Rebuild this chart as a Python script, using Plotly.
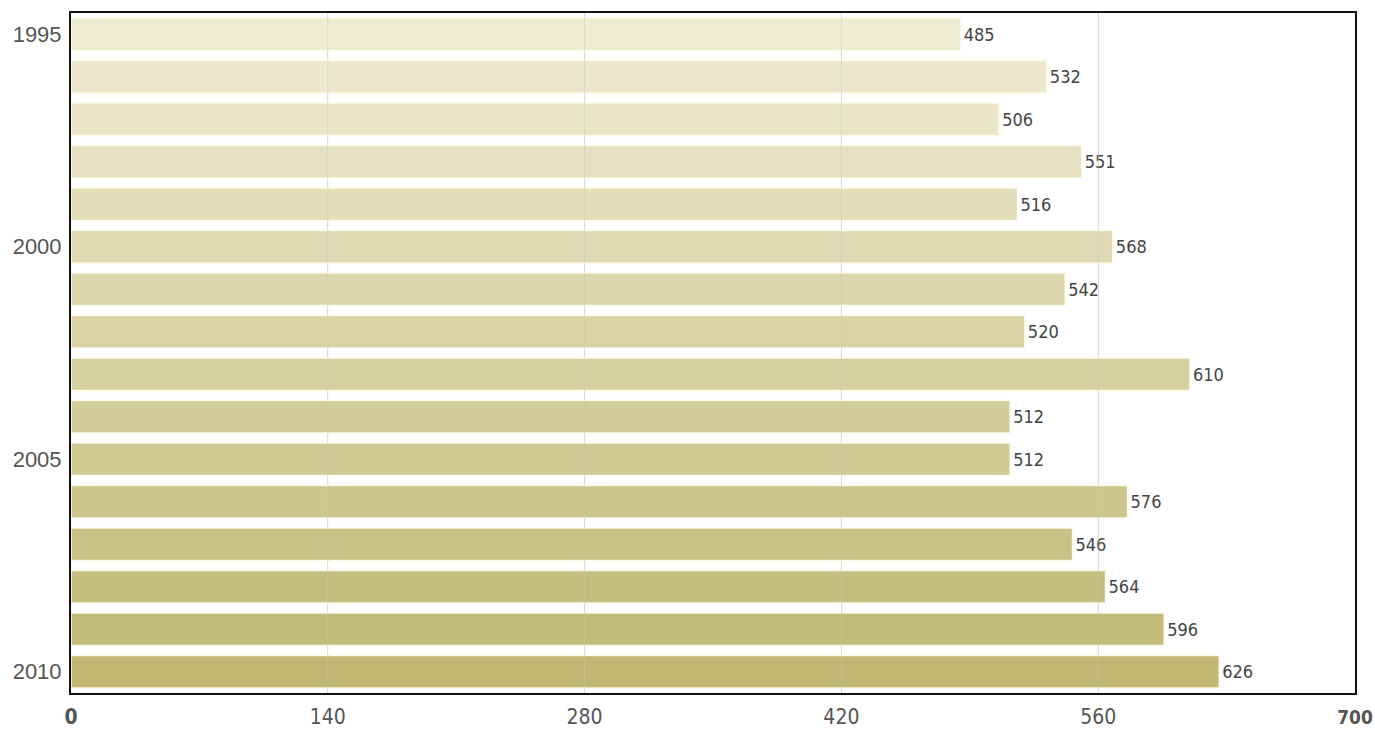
import plotly.graph_objects as go

years = [str(y) for y in range(1995, 2011)]
values = [485, 532, 506, 551, 516, 568, 542, 520, 610, 512, 512, 576, 546, 564, 596, 626]
x_tick_vals = [0, 140, 280, 420, 560, 700]
x_tick_text = ["<b>0</b>", "140", "280", "420", "560",
               "<span style='font-size:19px'><b>700</b></span>"]
y_tick_vals = ["1995", "2000", "2005", "2010"]

NARROW = "Liberation Sans Narrow, DejaVu Sans Condensed, Arial Narrow, sans-serif"

top_rgb = (239, 236, 212)
bot_rgb = (191, 183, 114)
n = len(values)
colors = []
for i in range(n):
    t = i / (n - 1)
    c = [round(top_rgb[k] + (bot_rgb[k] - top_rgb[k]) * t) for k in range(3)]
    colors.append(f"rgb({c[0]},{c[1]},{c[2]})")

fig = go.Figure()
fig.add_trace(go.Bar(
    y=years, x=values, orientation="h",
    marker=dict(color=colors, line=dict(color="rgb(252,250,232)", width=1.5)),
    text=[str(v) for v in values], textposition="outside",
    textfont=dict(family=NARROW, size=18, color="#444444"),
    cliponaxis=False,
    hoverinfo="x+y",
))

for v in x_tick_vals[1:-1]:
    fig.add_shape(type="line", xref="x", yref="paper", x0=v, x1=v, y0=0, y1=1,
                  line=dict(color="rgba(200,200,200,0.45)", width=1), layer="above")

fig.update_layout(
    width=1375, height=731,
    margin=dict(l=71, r=20, t=13, b=38, autoexpand=False),
    paper_bgcolor="white", plot_bgcolor="white",
    bargap=0.24, showlegend=False,
    xaxis=dict(range=[0, 700], tickvals=x_tick_vals, ticktext=x_tick_text,
               showgrid=True, gridcolor="#e6e6e6", zeroline=False, automargin=False,
               showline=True, linecolor="#111111", linewidth=2, mirror=True,
               ticks="", ticklabelstandoff=4, ticklabeloverflow="allow",
               tickfont=dict(family=NARROW, size=21, color="#555555")),
    yaxis=dict(autorange="reversed", categoryorder="array", categoryarray=years,
               tickvals=y_tick_vals, ticktext=y_tick_vals, automargin=False,
               showgrid=False, zeroline=False,
               showline=True, linecolor="#111111", linewidth=2, mirror=True,
               ticks="", ticklabelstandoff=3,
               tickfont=dict(family="Liberation Sans, Arial, sans-serif", size=22, color="#555555")),
)

# remove the default page margin so the figure fills the window exactly
fig.write_html("out.html",
               config={"displayModeBar": False},
               post_script="document.body.style.margin='0';document.body.style.overflow='hidden';")
